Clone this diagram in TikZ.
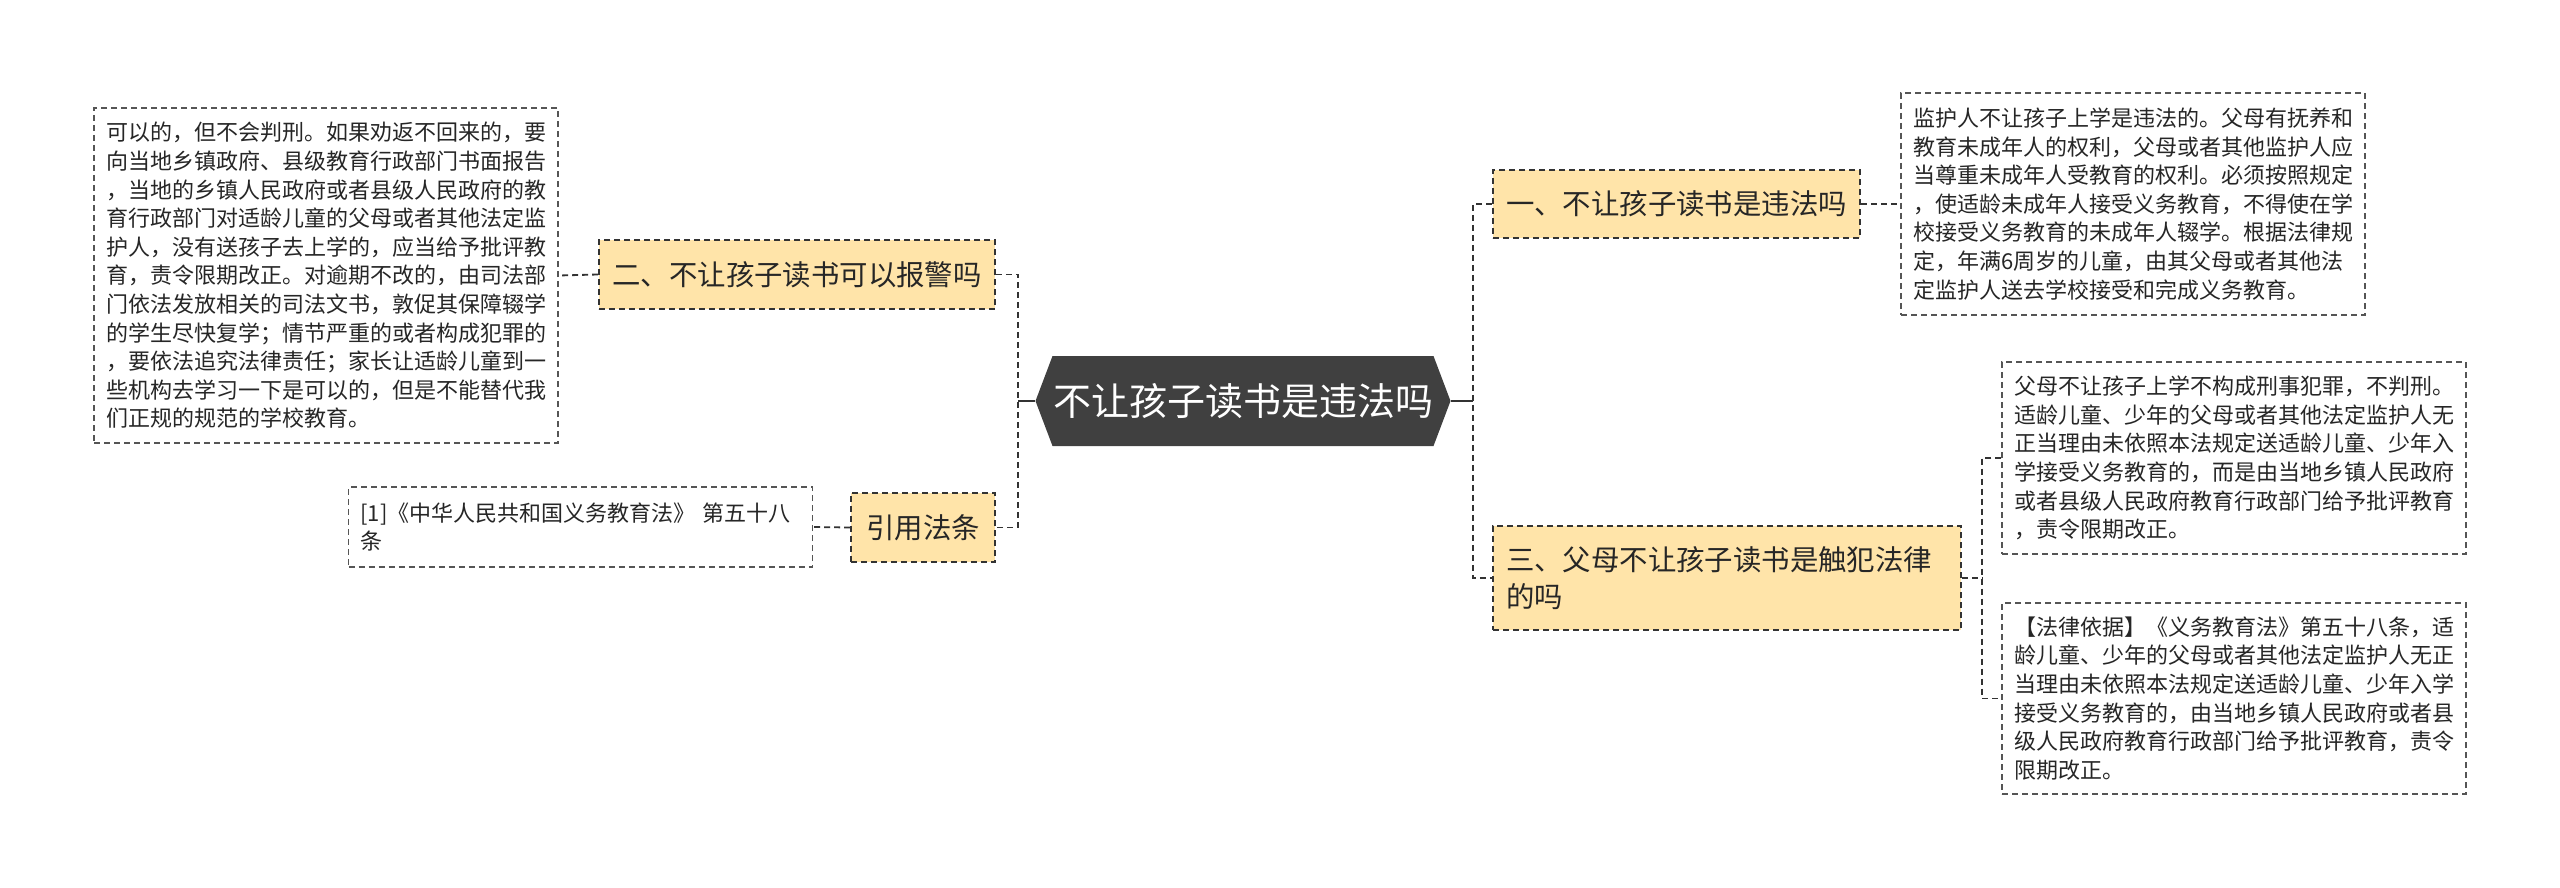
\documentclass[tikz,border=0pt]{standalone}
\usepackage{fontspec}
\setmainfont{Noto Sans CJK SC}
\definecolor{lvlfill}{HTML}{FFE4A9}
\definecolor{rootfill}{HTML}{404040}
\definecolor{lineC}{HTML}{333333}
\definecolor{detC}{HTML}{555555}
\begin{document}
\begin{tikzpicture}[x=0.5pt,y=-0.5pt,
  lvl/.style={draw=lineC, line width=0.9pt, dash pattern=on 3pt off 2pt, fill=lvlfill,
    font=\fontsize{14.2pt}{18.8pt}\selectfont, text=black!85, inner xsep=6.5pt, inner ysep=0pt, align=left},
  det/.style={draw=detC, line width=0.7pt, dash pattern=on 3pt off 2pt, fill=white,
    font=\fontsize{11pt}{14.3pt}\selectfont, text=black!85, text width=220pt, inner xsep=6pt, inner ysep=0pt, align=left},
  conn/.style={draw=lineC, line width=0.9pt, dash pattern=on 3pt off 2pt},
  solidconn/.style={draw=lineC, line width=0.9pt}]
\useasboundingbox (0,0) rectangle (2560,888);
% root hexagon
\fill[rootfill] (1035.5,401) -- (1052.5,356) -- (1433.5,356) -- (1450.5,401) -- (1433.5,446) -- (1052.5,446) -- cycle;
\node[text=white, font=\fontsize{19pt}{22pt}\selectfont, minimum width=207.5pt, minimum height=45pt, inner sep=0pt] (root) at (1243,401) {不让孩子读书是违法吗};

% level 1 nodes
\node[lvl, minimum width=183.5pt, minimum height=34pt] (n1) at (1676.5,204) {一、不让孩子读书是违法吗};
\node[lvl, text width=221pt, minimum height=52pt] (n3) at (1727,578) {三、父母不让孩子读书是触犯法律\\的吗};
\node[lvl, minimum width=198pt, minimum height=34.5pt] (n2) at (797,274.5) {二、不让孩子读书可以报警吗};
\node[lvl, minimum width=72pt, minimum height=34.5pt] (nref) at (923,527.5) {引用法条};

% detail nodes
\node[det, minimum height=111pt] (d1) at (2133,204) {监护人不让孩子上学是违法的。父母有抚养和\\教育未成年人的权利，父母或者其他监护人应\\当尊重未成年人受教育的权利。必须按照规定\\，使适龄未成年人接受义务教育，不得使在学\\校接受义务教育的未成年人辍学。根据法律规\\定，年满6周岁的儿童，由其父母或者其他法\\定监护人送去学校接受和完成义务教育。};
\node[det, minimum height=96pt] (d31) at (2234,458) {父母不让孩子上学不构成刑事犯罪，不判刑。\\适龄儿童、少年的父母或者其他法定监护人无\\正当理由未依照本法规定送适龄儿童、少年入\\学接受义务教育的，而是由当地乡镇人民政府\\或者县级人民政府教育行政部门给予批评教育\\，责令限期改正。};
\node[det, minimum height=95.5pt] (d32) at (2234,698.5) {【法律依据】《义务教育法》第五十八条，适\\龄儿童、少年的父母或者其他法定监护人无正\\当理由未依照本法规定送适龄儿童、少年入学\\接受义务教育的，由当地乡镇人民政府或者县\\级人民政府教育行政部门给予批评教育，责令\\限期改正。};
\node[det, minimum height=167.5pt] (d2) at (326,275.5) {可以的，但不会判刑。如果劝返不回来的，要\\向当地乡镇政府、县级教育行政部门书面报告\\，当地的乡镇人民政府或者县级人民政府的教\\育行政部门对适龄儿童的父母或者其他法定监\\护人，没有送孩子去上学的，应当给予批评教\\育，责令限期改正。对逾期不改的，由司法部\\门依法发放相关的司法文书，敦促其保障辍学\\的学生尽快复学；情节严重的或者构成犯罪的\\，要依法追究法律责任；家长让适龄儿童到一\\些机构去学习一下是可以的，但是不能替代我\\们正规的规范的学校教育。};
\node[det, minimum height=40pt] (dref) at (580.5,527) {[1]《中华人民共和国义务教育法》 第五十八\\条};

% connectors
\coordinate (tL) at (1018,401);
\coordinate (tR) at (1473,401);
\coordinate (t3) at (1982,578);
\draw[solidconn] (root.west) -- (tL);
\draw[solidconn] (root.east) -- (tR);
\draw[conn] (n2.east) -| (tL) |- (nref.east);
\draw[conn] (n1.west) -| (tR) |- (n3.west);
\draw[conn] (n1.east) -- (d1.west);
\draw[conn] (n2.west) -- (d2.east);
\draw[conn] (nref.west) -- (dref.east);
\draw[conn] (n3.east) -- (t3);
\draw[conn] (d31.west) -| (t3) |- (d32.west);
\end{tikzpicture}
\end{document}
